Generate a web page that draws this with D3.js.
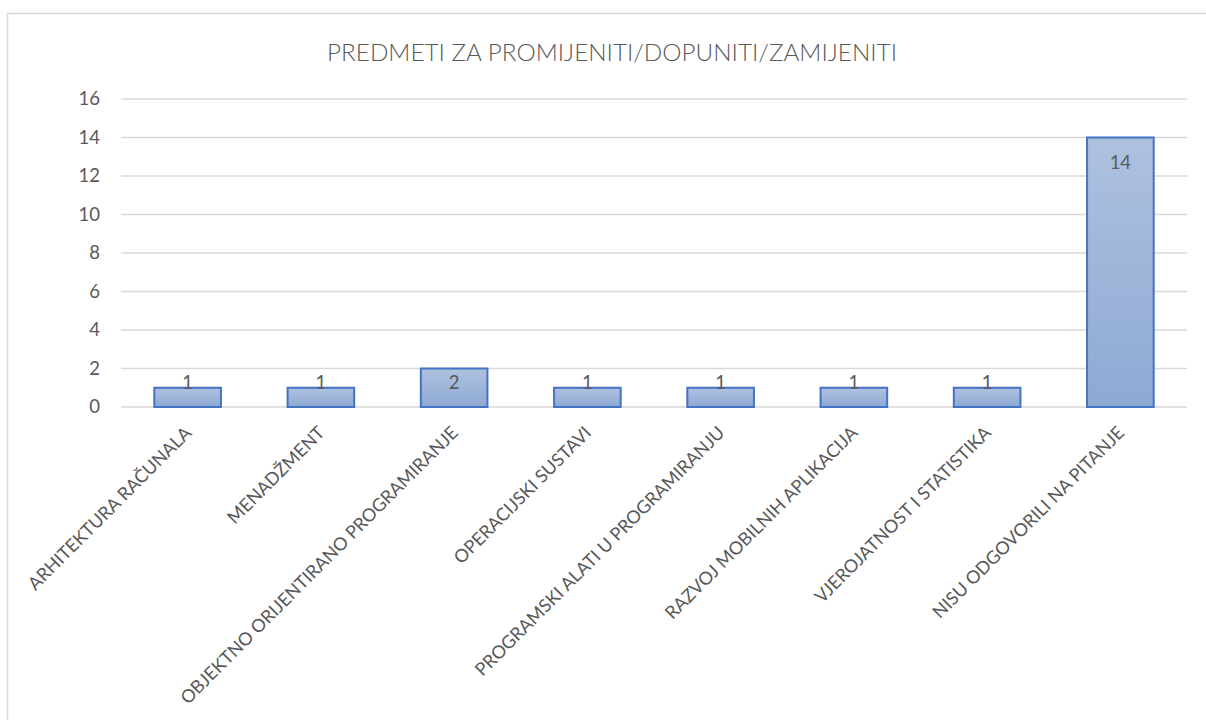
<!DOCTYPE html>
<html>
<head>
<meta charset="utf-8">
<script src="https://cdn.jsdelivr.net/npm/d3@7"></script>
<style>
  body { margin: 0; background: #fff; }
  text { font-family: Lato, "Noto Sans", sans-serif; fill: #595959; }
</style>
</head>
<body>
<script>
// chart data
var title = "PREDMETI ZA PROMIJENITI/DOPUNITI/ZAMIJENITI";
var categories = [
  "ARHITEKTURA RAČUNALA",
  "MENADŽMENT",
  "OBJEKTNO ORIJENTIRANO PROGRAMIRANJE",
  "OPERACIJSKI SUSTAVI",
  "PROGRAMSKI ALATI U PROGRAMIRANJU",
  "RAZVOJ MOBILNIH APLIKACIJA",
  "VJEROJATNOST I STATISTIKA",
  "NISU ODGOVORILI NA PITANJE"
];
var counts = [1, 1, 2, 1, 1, 1, 1, 14];
var yTicks = [0, 2, 4, 6, 8, 10, 12, 14, 16];

var width = 1206, height = 720;
var margin = { top: 99, right: 19, bottom: 313, left: 121 };

var svg = d3.select("body")
            .append("svg")
            .attr("width", width)
            .attr("height", height);

// gradient for the bars
var grad = svg.append("defs").append("linearGradient")
  .attr("id", "barfill")
  .attr("x1", 0).attr("y1", 0).attr("x2", 0).attr("y2", 1);
grad.append("stop").attr("offset", "0%").attr("stop-color", "#aec1df");
grad.append("stop").attr("offset", "100%").attr("stop-color", "#8ea9d4");

// chart border
svg.append("rect")
   .attr("x", 7.5).attr("y", 13.5)
   .attr("width", 1230).attr("height", 740)
   .style("fill", "none")
   .style("stroke", "#d9d9d9")
   .style("stroke-width", 1.5);

svg.append("text")
   .attr("x", 612)
   .attr("y", 61)
   .attr("text-anchor", "middle")
   .style("font-size", "24.3px")
   .style("font-weight", 300)
   .text(title);

var xScale = d3.scaleBand()
  .domain(categories)
  .range([margin.left, width - margin.right])
  .paddingInner(0.5)
  .paddingOuter(0.25);

var yScale = d3.scaleLinear()
  .domain([0, 16])
  .range([height - margin.bottom, margin.top]);

// gridlines
svg.selectAll("line.grid")
   .data(yTicks)
   .enter()
   .append("line")
   .attr("class", "grid")
   .attr("x1", margin.left)
   .attr("x2", width - margin.right)
   .attr("y1", function(d) { return yScale(d); })
   .attr("y2", function(d) { return yScale(d); })
   .style("stroke", "#d9d9d9")
   .style("stroke-width", 1.5);

// y axis labels
var yAxis = d3.axisLeft(yScale)
  .tickValues(yTicks)
  .tickSize(0)
  .tickPadding(21);
var yGuide = svg.append("g")
  .attr("transform", "translate(" + margin.left + ",0)")
  .call(yAxis);
yGuide.select(".domain").remove();
yGuide.selectAll("text")
  .style("font-size", "18.5px")
  .style("font-family", "Lato, sans-serif")
  .attr("fill", "#595959");

// bars
svg.selectAll("rect.bar")
   .data(counts)
   .enter()
   .append("rect")
   .attr("class", "bar")
   .attr("x", function(d, i) { return xScale(categories[i]); })
   .attr("y", function(d) { return yScale(d); })
   .attr("width", xScale.bandwidth())
   .attr("height", function(d) { return yScale(0) - yScale(d); })
   .style("fill", "url(#barfill)")
   .style("stroke", "#4472c4")
   .style("stroke-width", 2);

// value labels
svg.selectAll("text.val")
   .data(counts)
   .enter()
   .append("text")
   .attr("class", "val")
   .attr("x", function(d, i) { return xScale(categories[i]) + xScale.bandwidth() / 2; })
   .attr("y", function(d) { return Math.min(yScale(d) + 25, yScale(0) - 24); })
   .attr("dy", "0.35em")
   .attr("text-anchor", "middle")
   .style("font-size", "18.5px")
   .text(function(d) { return d; });

// category labels, rotated
svg.selectAll("text.cat")
   .data(categories)
   .enter()
   .append("text")
   .attr("class", "cat")
   .attr("text-anchor", "end")
   .attr("transform", function(d) {
     var x = xScale(d) + xScale.bandwidth() / 2 + 5;
     var y = yScale(0) + 27;
     return "translate(" + x + "," + y + ") rotate(-45)";
   })
   .style("font-size", "18px")
   .text(function(d) { return d; });
</script>
</body>
</html>
